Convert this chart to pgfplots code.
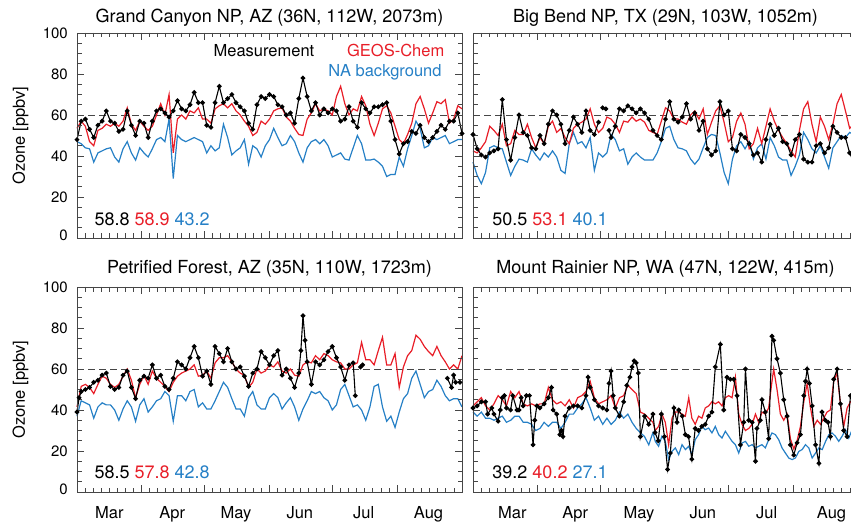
\documentclass[border=0pt]{standalone}
\usepackage{pgfplots}
\pgfplotsset{compat=1.18}
\usepackage{fontspec}
\setmainfont{TeX Gyre Heros}
\definecolor{gcred}{RGB}{232,30,40}
\definecolor{nablue}{RGB}{38,128,198}
\definecolor{axgray}{RGB}{70,70,70}
\newcommand{\bigf}{\fontsize{16.5}{19}\selectfont}
\newcommand{\titf}{\fontsize{18}{20}\selectfont}
\newcommand{\tickf}{\fontsize{15}{17}\selectfont}
\tikzset{mtick/.style={axgray, line width=0.8pt}}
\newcommand{\manticks}{%
\pgfplotsinvokeforeach{31,61,92,122,153}{\draw[mtick] (axis cs:##1,0) -- ++(0pt,7pt); \draw[mtick] (axis cs:##1,100) -- ++(0pt,-7pt);}%
\pgfplotsinvokeforeach{3.88,7.75,11.63,15.5,19.38,23.25,27.13,34.75,38.5,42.25,46,49.75,53.5,57.25,64.88,68.75,72.63,76.5,80.38,84.25,88.13,95.75,99.5,103.25,107,110.75,114.5,118.25,125.88,129.75,133.63,137.5,141.38,145.25,149.13,156.88,160.75,164.63,168.5,172.38,176.25,180.13}{\draw[mtick] (axis cs:##1,0) -- ++(0pt,4.5pt); \draw[mtick] (axis cs:##1,100) -- ++(0pt,-4.5pt);}%
\pgfplotsinvokeforeach{20,40,60,80}{\draw[mtick] (axis cs:0,##1) -- ++(7pt,0pt); \draw[mtick] (axis cs:184,##1) -- ++(-7pt,0pt);}%
\pgfplotsinvokeforeach{5,10,15,25,30,35,45,50,55,65,70,75,85,90,95}{\draw[mtick] (axis cs:0,##1) -- ++(4.5pt,0pt); \draw[mtick] (axis cs:184,##1) -- ++(-4.5pt,0pt);}%
}
\pgfplotsset{
 panel/.style={
  width=385pt,height=205pt,scale only axis,anchor=south west,
  xmin=0,xmax=184,ymin=0,ymax=100,
  axis on top,
  axis line style={draw=axgray,line width=0.9pt},
  tick align=inside,
  every tick/.append style={axgray,line width=0.8pt},
  major tick length=7pt, minor tick length=4.5pt,
  xtick={0,31,61,92,122,153,184}, xticklabels={},
  minor xtick={3.88,7.75,11.63,15.5,19.38,23.25,27.13,34.75,38.5,42.25,46,49.75,53.5,57.25,64.88,68.75,72.63,76.5,80.38,84.25,88.13,95.75,99.5,103.25,107,110.75,114.5,118.25,125.88,129.75,133.63,137.5,141.38,145.25,149.13,156.88,160.75,164.63,168.5,172.38,176.25,180.13},
  ytick={0,20,40,60,80,100}, yticklabels={},
  minor ytick={5,10,15,25,30,35,45,50,55,65,70,75,85,90,95},
  clip=false,
  xticklabel style={font=\tickf},
  yticklabel style={font=\tickf, anchor=east, inner sep=0pt, xshift=-9pt},
 },
 months/.style={
   extra x ticks={15.5,45.5,76,106.5,137,168},
   extra x tick labels={Mar,Apr,May,Jun,Jul,Aug},
   extra x tick style={major tick length=0pt, xticklabel style={anchor=base,yshift=-26pt,xshift=#1,font=\bigf}},
 },
 months/.default=0pt,
 ylabs/.style={yticklabels={\raisebox{5pt}{0},20,40,60,80,\raisebox{-9pt}{100}}},
 meas/.style={black, line width=1.1pt, mark=*, mark size=1.8pt},
 model/.style={gcred, line width=1.2pt},
 bg/.style={nablue, line width=1.2pt},
 refl/.style={axgray, line width=0.8pt, dash pattern=on 7pt off 4pt},
}
\begin{document}
\begin{tikzpicture}
\useasboundingbox (0pt,0pt) rectangle (851pt,525pt);
% ---------------- Top left: Grand Canyon
\begin{axis}[panel, ylabs, at={(77pt,287pt)}]
\addplot[refl] coordinates {(0,60) (184,60)};
\addplot[bg] coordinates {(0,47)(2,46)(4,44)(6,43.5)(8,37)(10,41.5)(12,42.5)(14,43.5)(16,44)(18,39.5)(20,37)(22,43.5)(24,47)(26,41.5)(28,38)(30,44)(32,41.5)(34,39.5)(36,43.5)(38,48)(40,49)(42,47)(44,58)(46,29)(48,50)(50,48)(52,47)(54,48)(56,49)(58,48)(60,47)(62,41.5)(64,45)(66,42.5)(68,44)(70,55.5)(72,49)(74,40.5)(76,42.5)(78,44)(80,48)(82,36)(84,45)(86,43.5)(88,39.5)(90,45)(92,48)(94,53.5)(96,49)(98,45)(100,46)(102,50)(104,47)(106,41.5)(108,37)(110,44)(112,47)(114,48)(116,46)(118,48)(120,45)(122,39.5)(124,40.5)(126,41.5)(128,38.5)(130,38)(132,44)(134,50)(136,46)(138,38)(140,38)(142,38.5)(144,37)(146,35)(148,30)(150,31)(152,31)(154,39.5)(156,35)(158,43.5)(160,50)(162,57)(164,53.5)(166,44)(168,45)(170,49)(172,48)(174,49)(176,50)(178,46)(180,47)(182,48)(184,48)};
\addplot[model] coordinates {(0,53.5)(2,57)(4,54.5)(6,47)(8,45)(10,52.5)(12,53.5)(14,55.5)(16,54.5)(18,56)(20,54.5)(22,57)(24,63.5)(26,55.5)(28,52.5)(30,57)(32,54.5)(34,52.5)(36,54.5)(38,60)(40,65.5)(42,60)(44,70)(46,41.5)(48,58)(50,60)(52,58)(54,62)(56,61)(58,63.5)(60,58)(62,58)(64,56)(66,63)(68,64.5)(70,65.5)(72,63.5)(74,65.5)(76,62)(78,60)(80,57)(82,54.5)(84,50)(86,51.5)(88,57)(90,55.5)(92,58)(94,62)(96,63)(98,63.5)(100,59)(102,57)(104,53.5)(106,50.5)(108,50)(110,58)(112,61)(114,65.5)(116,62)(118,63)(120,62)(122,60)(124,69)(126,74)(128,65.5)(130,60)(132,63)(134,62)(136,69)(138,64.5)(140,55.5)(142,50)(144,56)(146,63)(148,64.5)(150,61)(152,54.5)(154,48)(156,46)(158,50.5)(160,56)(162,65.5)(164,69)(166,63)(168,56)(170,61)(172,66.5)(174,65.5)(176,67.5)(178,56)(180,58)(182,64.5)(184,63)};
\addplot[meas] coordinates {(0,48)(2,57)(4,58)(6,53)(8,49)(10,55)(12,57)(14,62)(16,57)(18,56)(20,52)(22,53)(24,62)(26,55)(28,50)(30,57)(32,56)(34,49)(36,57)(38,62)(40,63)(42,61)(44,59)(46,62)(48,67)(50,63)(52,62)(54,65)(56,71)(58,66)(60,66)(62,55)(64,54)(66,66)(68,74)(70,66)(72,68)(74,70)(76,66)(78,64)(80,62)(82,56)(84,53)(86,65)(88,69)(90,68)(92,70)(94,69)(96,65)(98,64)(100,60)(102,61)(104,56)(106,68)(108,78)(110,69)(112,62)(114,66)(116,60)(118,63)(120,61)(122,63)(124,62)(126,57)(128,58)(130,64)(132,57)(134,54)(136,66)(138,63)(140,61)(142,64)(144,64)(146,65)(148,66)(150,57)(152,48)(154,41)(156,46)(158,47)(160,52)(162,51)(164,55)(166,49)(168,47)(170,49)(172,52)(174,55)(176,53)(178,57)(180,57)(182,61)(184,51)};
\node[anchor=base,yshift=10.5pt,font=\titf] at (rel axis cs:0.5,1) {Grand Canyon NP, AZ (36N, 112W, 2073m)};
\node[rotate=90,font=\bigf] at ([xshift=-56.5pt]rel axis cs:0,0.5) {Ozone [ppbv]};
\node[anchor=base west,font=\bigf,inner sep=0pt] at (axis cs:65.2,88.4) {Measurement};
\node[anchor=base west,font=\bigf,inner sep=0pt,text=gcred] at (axis cs:129,88.4) {GEOS-Chem};
\node[anchor=base west,font=\bigf,inner sep=0pt,text=nablue] at (axis cs:120,78.7) {NA background};
\node[anchor=base west,font=\titf,inner sep=0pt] at (axis cs:8.3,6.3) {58.8 \textcolor{gcred}{58.9} \textcolor{nablue}{43.2}};
\manticks
\end{axis}
% ---------------- Top right: Big Bend
\begin{axis}[panel, at={(473pt,287pt)}]
\addplot[refl] coordinates {(0,60) (184,60)};
\addplot[bg] coordinates {(0,37)(2,30.5)(4,26.5)(6,32)(8,44)(10,45)(12,44)(14,43.5)(16,37)(18,30.5)(20,35)(22,38.5)(24,38)(26,37)(28,43.5)(30,40.5)(32,38)(34,41.5)(36,39.5)(38,42.5)(40,39.5)(42,33)(44,31.5)(46,46)(48,51.5)(50,46)(52,47)(54,44)(56,49)(58,33)(60,41.5)(62,39.5)(64,41.5)(66,50.5)(68,48)(70,42.5)(72,43.5)(74,36)(76,39.5)(78,41.5)(80,39.5)(82,38)(84,38)(86,38)(88,41.5)(90,47)(92,53.5)(94,54.5)(96,48)(98,44)(100,43.5)(102,42.5)(104,38.5)(106,36)(108,38.5)(110,44)(112,49)(114,50.5)(116,50)(118,41.5)(120,32)(122,26.5)(124,38.5)(126,45)(128,47)(130,43.5)(132,47)(134,38.5)(136,44)(138,46)(140,38.5)(142,49)(144,45)(146,39.5)(148,38)(150,38)(152,30.5)(154,35)(156,40.5)(158,51.5)(160,48)(162,43.5)(164,41.5)(166,45)(168,39.5)(170,34)(172,44)(174,47)(176,50)(178,49)(180,51.5)(182,50.5)(184,49)};
\addplot[model] coordinates {(0,42.5)(2,41.5)(4,44)(6,47)(8,54.5)(10,52.5)(12,50)(14,55.5)(16,45)(18,46)(20,52.5)(22,50.5)(24,50.5)(26,55.5)(28,49)(30,44)(32,49)(34,46)(36,54.5)(38,57)(40,51.5)(42,53.5)(44,49)(46,46)(48,53.5)(50,55.5)(52,56.5)(54,58)(56,63)(58,55.5)(60,51.5)(62,53.5)(64,59)(66,58)(68,55.5)(70,51.5)(72,57)(74,56.5)(76,59)(78,57)(80,58)(82,56.5)(84,52.5)(86,51.5)(88,50.5)(90,57)(92,63.5)(94,62)(96,58)(98,58)(100,56.5)(102,55.5)(104,60)(106,62)(108,58)(110,63)(112,50.5)(114,56.5)(116,62)(118,64.5)(120,56.5)(122,47)(124,49)(126,57)(128,61)(130,55.5)(132,43.5)(134,46)(136,53.5)(138,46)(140,54.5)(142,63)(144,57)(146,52.5)(148,49)(150,46)(152,42.5)(154,39.5)(156,52.5)(158,63)(160,66.5)(162,55.5)(164,47)(166,59)(168,54.5)(170,48)(172,55.5)(174,65.5)(176,70)(178,62)(180,53.5)(182,55.5)(184,58)};
\addplot[meas] coordinates {(0,50.5)(2,43.5)(4,40.5)(6,39.5)(8,41.5)(10,42.5)(12,43.5)(14,67.5)(16,48)(18,38)(20,49)(22,60)(24,51.5)(26,50)(28,44)(30,43.5)(32,50)(34,46)(36,55.5)(38,62)(40,60)(42,55.5)(44,46)(46,52.5)(48,59)(50,55.5)(52,51.5)(54,62)(56,52.5)(58,50.5)(60,56.5)};
\addplot[meas] coordinates {(62,63.5)(63.5,63)};
\addplot[meas] coordinates {(65,52.5)(66,49)(68,54.5)(70,63)(72,62)(74,64.5)(76,63)(78,61)(80,63)(82,61)(84,58)(86,52.5)(88,50)(90,48)(92,58)(94,66.5)(96,58)(98,56.5)(100,59)(102,65.5)(104,58)(106,61)(108,52.5)(110,57)(112,43.5)(114,40.5)(116,42.5)(118,66.5)(120,60)(122,62)(124,43.5)(126,42.5)(128,50.5)(130,49)(132,46)(134,40.5)(136,41.5)(138,37)(140,48)(142,55.5)(144,50)(146,53.5)(148,47)(150,46)(152,40.5)(154,48)(156,50.5)(158,38.5)(160,37)(162,37)(164,45)(166,46)(168,41.5)(170,44)(172,54.5)(174,51.5)(176,49)(178,49)(180,41.5)(182,37)};
\node[anchor=base,yshift=10.5pt,font=\titf] at (rel axis cs:0.5,1) {Big Bend NP, TX (29N, 103W, 1052m)};
\node[anchor=base west,font=\titf,inner sep=0pt] at (axis cs:9.2,6.3) {50.5 \textcolor{gcred}{53.1} \textcolor{nablue}{40.1}};
\manticks
\end{axis}
% ---------------- Bottom left: Petrified Forest
\begin{axis}[panel, ylabs, months, at={(77pt,33pt)}]
\addplot[refl] coordinates {(0,60) (184,60)};
\addplot[bg] coordinates {(0,37)(2,44.5)(4,43.5)(6,42.5)(8,36)(10,41.5)(12,43.5)(14,42.5)(16,42.5)(18,40)(20,35)(22,40.5)(24,44.5)(26,41.5)(28,34.5)(30,42.5)(32,45.5)(34,39)(36,41.5)(38,44.5)(40,45.5)(42,49)(44,47)(46,34.5)(48,47)(50,47)(52,44.5)(54,49)(56,50)(58,41.5)(60,43.5)(62,40.5)(64,40.5)(66,44.5)(68,49)(70,53.5)(72,51)(74,45.5)(76,40.5)(78,40.5)(80,37)(82,46)(84,49)(86,42.5)(88,40.5)(90,40.5)(92,46)(94,48)(96,46)(98,40.5)(100,43.5)(102,46)(104,41.5)(106,35)(108,40.5)(110,44.5)(112,49)(114,48)(116,49)(118,46)(120,44.5)(122,40)(124,42.5)(126,50)(128,52.5)(130,47)(132,41.5)(134,42.5)(136,40)(138,35)(140,41.5)(142,51.5)(144,52.5)(146,41.5)(148,34.5)(150,37)(152,31.5)(154,39)(156,45.5)(158,48)(160,55.5)(162,59)(164,52.5)(166,46)(168,49)(170,50)(172,54.5)(174,51.5)(176,47)(178,44.5)(180,45.5)(182,45.5)(184,41.5)};
\addplot[model] coordinates {(0,41.5)(2,51.5)(4,52.5)(6,51)(8,48)(10,52.5)(12,56.5)(14,55.5)(16,52.5)(18,51)(20,52.5)(22,56.5)(24,60)(26,54.5)(28,46)(30,52.5)(32,57)(34,52.5)(36,59)(38,55.5)(40,53.5)(42,51.5)(44,49)(46,53.5)(48,56.5)(50,58)(52,59)(54,60)(56,62)(58,56.5)(60,57)(62,59)(64,55.5)(66,63)(68,65.5)(70,65.5)(72,66.5)(74,63.5)(76,60)(78,58)(80,57)(82,51)(84,53.5)(86,60)(88,58)(90,59)(92,62)(94,61)(96,63.5)(98,59)(100,58)(102,60)(104,57)(106,56.5)(108,62)(110,63.5)(112,63)(114,66.5)(116,64.5)(118,67.5)(120,66.5)(122,64.5)(124,63.5)(126,63)(128,60)(130,60)(132,62)(134,63)(136,73)(138,64.5)(140,64.5)(142,62)(144,69)(146,75.5)(148,62)(150,62)(152,67.5)(154,51)(156,61)(158,66.5)(160,69)(162,76.5)(164,74.5)(166,71)(168,68.5)(170,66.5)(172,71)(174,66.5)(176,63.5)(178,60)(180,62)(182,60)(184,66.5)};
\addplot[meas] coordinates {(0,39)(1,46)(2,49)(4,50)(6,51)(8,53.5)(10,54.5)(12,57)(14,58)(16,51.5)(18,50)(20,51)(22,57)(24,59)(26,51)(28,45.5)(30,54.5)(32,56.5)(34,55.5)(36,62)(38,55.5)(40,57)(42,51.5)(44,50)(46,55.5)(48,63.5)(50,62)(52,60)(54,65.5)(56,71)(58,65.5)(60,56.5)(62,59)(64,52.5)(66,71)(68,67.5)(70,63.5)(72,70)(74,63.5)(76,60)(78,61)(80,56.5)(82,51.5)(84,58)(86,60)(88,68.5)(90,65.5)(92,62)(94,66.5)(96,69)(98,57)(100,60)(102,55.5)(104,51)(106,58)(107,69)(108,86)(109,74)(110,63.5)(112,52.5)(114,63.5)(116,62)(118,64.5)(120,68.5)(122,71)(124,65.5)(126,61)(128,54.5)(130,62)(132,63)(133,47)};
\addplot[meas] coordinates {(135.5,61)(136.5,62)};
\addplot[meas] coordinates {(177,55.5)(179,51)(180,57)(181,53.5)(183,53.5)};
\node[anchor=base,yshift=13.5pt,font=\titf] at (rel axis cs:0.5,1) {Petrified Forest, AZ (35N, 110W, 1723m)};
\node[rotate=90,font=\bigf] at ([xshift=-56.5pt]rel axis cs:0,0.5) {Ozone [ppbv]};
\node[anchor=base west,font=\titf,inner sep=0pt] at (axis cs:8.3,6.7) {58.5 \textcolor{gcred}{57.8} \textcolor{nablue}{42.8}};
\manticks
\end{axis}
% ---------------- Bottom right: Mount Rainier
\begin{axis}[panel, months=7pt, at={(473pt,33pt)}]
\addplot[refl] coordinates {(0,60) (184,60)};
\addplot[bg] coordinates {(0,39)(2,37)(4,39)(6,36)(8,36)(10,35)(12,36)(14,37)(16,34)(18,35)(20,37)(22,37)(24,34)(26,34)(28,33)(30,30)(32,31)(34,34)(36,32)(38,34)(40,34)(42,31)(44,34)(46,38)(48,38)(50,41)(52,43)(54,46)(56,41)(58,35)(60,37)(62,33)(64,36)(66,33)(68,35)(70,39)(72,36)(74,38)(76,34)(78,31)(80,29)(82,27)(84,23)(86,29)(87.1,24.7)(88.7,22.3)(90.3,27.2)(91.9,24.7)(93.5,15.8)(95.1,19.8)(96.7,21.5)(98.3,18.2)(99.9,23.1)(101.5,20.7)(103.1,22.3)(104.6,18.2)(106.2,25.5)(107.8,28)(109.4,32)(111,30.4)(112.6,31.2)(114.2,28.8)(115.8,32)(117.4,28)(119,26.3)(120.6,29.6)(122.2,27.2)(123.8,24.7)(125.4,23.1)(127,19)(128.6,23.9)(130.2,24.7)(131.8,22.3)(133.4,23.1)(135,21.5)(136.5,22.3)(138.1,23.1)(139.7,21.5)(141.3,25.5)(142.9,28.8)(144.5,28)(146.1,25.5)(147.7,21.5)(149.3,19)(150.9,16.6)(152.5,15.8)(154.1,16.6)(155.7,19.8)(157.3,20.7)(158.9,23.1)(160.5,21.5)(162.1,16.6)(163.7,19)(165.3,21.5)(166.9,20.7)(168.5,24.7)(170.1,28)(171.6,28.8)(173.2,27.2)(174.8,24.7)(176.4,27.2)(178,30.4)(179.6,26.3)(181.2,30.4)(184,30)};
\addplot[model] coordinates {(0,42)(2,44)(4,46)(6,42)(8,40)(10,43)(12,47)(14,45)(16,42)(18,49)(20,46)(22,49)(24,43)(26,42)(28,43)(30,42)(32,43)(34,43)(36,51)(38,45)(40,43)(42,44)(44,42)(46,45)(48,41)(50,46)(52,47)(54,49)(56,54)(58,46)(60,43)(62,44)(64,45)(66,47)(68,41)(70,46)(72,47)(74,52)(76,50)(78,48)(80,39)(82,38)(84,36)(86,34)(87.1,30)(88.7,32)(90.3,38)(91.9,34)(93.5,23)(95.1,36)(96.7,39)(98.3,39)(99.9,38)(101.5,37)(103.1,46)(104.6,36)(106.2,33)(107.8,37)(109.4,36)(111,41)(112.6,42)(114.2,44)(115.8,43)(117.4,44)(119,42)(120.6,46)(122.2,47)(123.8,46)(125.4,56)(127,38)(128.6,33)(130.2,30)(131.8,31)(133.4,33)(135,38)(136.5,34)(138.1,39)(139.7,38)(141.3,41)(142.9,54)(143.7,60)(145.3,50)(146.9,38)(148.5,35)(150.1,38)(151.7,26)(153.3,21)(154.9,25)(156.5,32)(158.1,44)(159.7,53)(161.3,41)(162.9,32)(164.5,35)(166.1,33)(167.6,36)(169.2,39)(170.8,40)(172.4,54)(174,58)(175.6,43)(177.2,32)(178.8,41)(180.4,44)(182,45)};
\addplot[meas] coordinates {(0,41)(2,42)(4,44)(6,44)(7,38)(9,41)(10,38)(12,34.5)(13,40)(14,46)(15,47)(16,41)(18,40)(19,47)(21,40)(22,40)(23,46)(24,42)(25.5,47)(27,47)(28.7,23)(29.5,35)(30.5,42)(32,41)(34,43)(36,46)(37.5,51)(38.3,40)(40,38)(41.5,28)(42.3,30)(43,27)(44,37)(46,41)(48,42)(50,42)(52,41)(54,47)(55,56)(56,51)(58,45)(60,42)(62,41)(64,40)(65,53)(66,59)(67,47)(68,41)(70,37)(72,44)(73.5,52)(75,56)(76,61)(77,64)(78,63)(79,58)(80,27)(82,37)(84,33)(86,38)(87,29)(88.5,25)(90,38)(91.5,27)(93,11)(94.3,19)(96,41)(97.5,34)(98.3,40)(100,37)(101.5,28)(103,27)(104.6,16)(106.2,31)(107.8,30)(109.4,32)(111,33)(112.6,37)(114.2,39)(115.8,61)(118.2,72)(119.8,40)(121.4,56)(123,55)(124.6,55)(126.2,47)(127.8,23)(129.4,34)(130.2,60)(131.8,35)(133.4,34)(135,15)(135.7,31)(137.3,35)(138.1,45)(139.7,39)(141.3,26)(142.9,76)(143.7,74)(145.3,65)(146.9,58)(148.5,45)(150.1,37)(151.7,23)(153.3,18)(154.9,24)(156.5,28)(158.1,47)(158.9,54)(159.7,60)(160.8,53)(162.1,42)(163.7,23)(165.3,14)(166.8,39)(168.4,35)(169.7,34)(170.8,27)(172.4,55)(174,60)(175.6,43)(177.2,30)(178.8,27)(180.4,47)(182,50)};
\node[anchor=base,yshift=13.5pt,font=\titf] at (rel axis cs:0.5,1) {Mount Rainier NP, WA (47N, 122W, 415m)};
\node[anchor=base west,font=\titf,inner sep=0pt] at (axis cs:9.2,6.7) {39.2 \textcolor{gcred}{40.2} \textcolor{nablue}{27.1}};
\manticks
\end{axis}
\end{tikzpicture}
\end{document}
